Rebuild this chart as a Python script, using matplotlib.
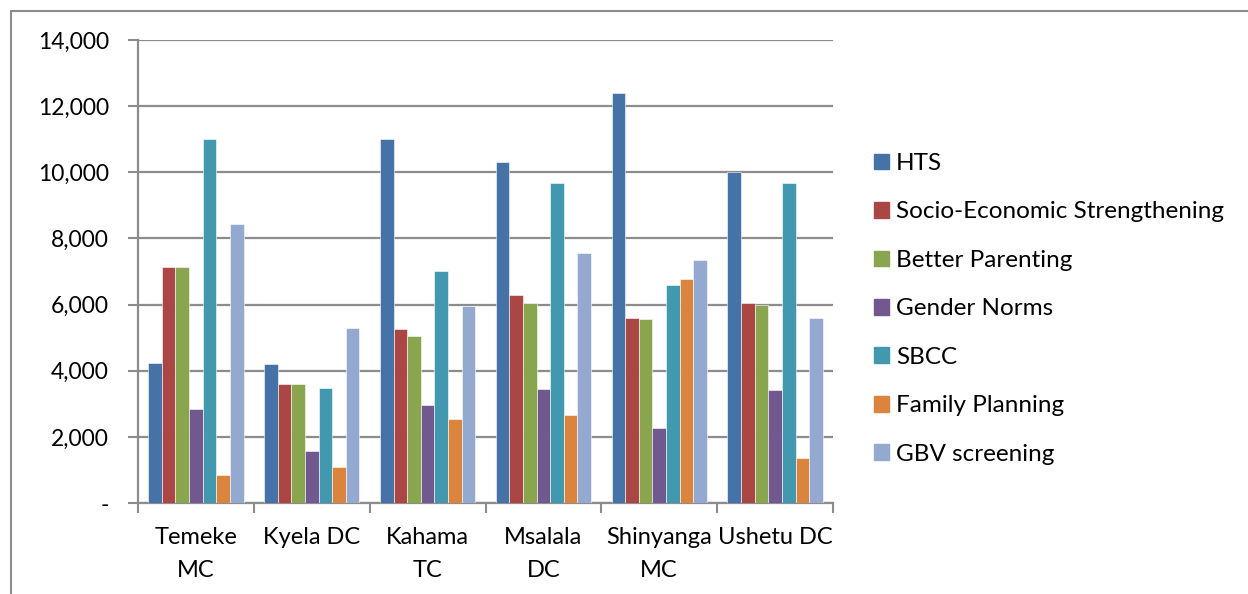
import matplotlib
matplotlib.use("Agg")
import matplotlib.pyplot as plt
import numpy as np
from matplotlib.lines import Line2D

districts = ["Temeke\nMC", "Kyela DC", "Kahama\nTC", "Msalala\nDC", "Shinyanga\nMC", "Ushetu DC"]
series_names = ["HTS", "Socio-Economic Strengthening", "Better Parenting",
                "Gender Norms", "SBCC", "Family Planning", "GBV screening"]
hts = [4220, 4190, 11000, 10300, 12400, 10000]
socio_economic = [7150, 3590, 5250, 6280, 5580, 6040]
better_parenting = [7150, 3590, 5060, 6050, 5560, 6000]
gender_norms = [2830, 1560, 2960, 3460, 2280, 3430]
sbcc = [11000, 3480, 7030, 9680, 6590, 9670]
family_planning = [860, 1100, 2530, 2650, 6770, 1360]
gbv_screening = [8440, 5290, 5970, 7560, 7350, 5600]
colors = ["#4572A7", "#AA4643", "#89A54E", "#71588F", "#4198AF", "#DB843D", "#93A9CF"]
y_ticks = [0, 2000, 4000, 6000, 8000, 10000, 12000, 14000]

values = [hts, socio_economic, better_parenting, gender_norms, sbcc, family_planning, gbv_screening]

plt.rcParams["font.family"] = ["Lato", "DejaVu Sans"]

W, H = 1248, 594
fig = plt.figure(figsize=(W / 100, H / 100), dpi=100)
ax = fig.add_axes([138 / W, 1 - 503 / H, (833 - 138) / W, (503 - 40) / H])

bar_w = 1.0 / 8.5
x = np.arange(len(districts))
grid_c = "#8C8C8C"

for i, (name, vals, c) in enumerate(zip(series_names, values, colors)):
    offs = 0.75 * bar_w + i * bar_w + bar_w / 2
    ax.bar(x + offs, vals, width=bar_w, color=c, edgecolor="white",
           linewidth=0.4, label=name, zorder=3)

ax.set_xlim(0, len(districts))
ax.set_ylim(0, 14000)
ax.set_yticks(y_ticks)
ax.set_yticklabels(["-" if v == 0 else f"{v:,}" for v in y_ticks])
ax.yaxis.grid(True, color=grid_c, linewidth=1.6, zorder=0)
ax.set_axisbelow(True)

ax.set_xticks(np.arange(len(districts) + 1))
ax.set_xticklabels([])
ax.set_xticks(x + 0.5, minor=True)
ax.set_xticklabels(districts, minor=True, fontsize=17, linespacing=1.72)
ax.tick_params(axis="x", which="minor", length=0, pad=17)
ax.tick_params(axis="x", which="major", length=7, width=1.5, color=grid_c)
ax.tick_params(axis="y", length=7, width=1.5, color=grid_c, labelsize=16.5, pad=14)

for side in ["top", "right"]:
    ax.spines[side].set_visible(False)
for side in ["left", "bottom"]:
    ax.spines[side].set_color(grid_c)
    ax.spines[side].set_linewidth(1.6)

handles = [plt.Rectangle((0, 0), 1, 1, color=c) for c in colors]
fig.legend(handles, series_names, loc="upper left",
           bbox_to_anchor=(874 / W, 1 - 153 / H), frameon=False,
           fontsize=17.5, handlelength=0.62, handleheight=0.62,
           handletextpad=0.29, labelspacing=1.13, borderaxespad=0,
           borderpad=0)

# outer chart-area border
fig.add_artist(Line2D([11 / W, 11 / W], [0, 1 - 11 / H], color="#8C8C8C", lw=1.5))
fig.add_artist(Line2D([11 / W, 1], [1 - 11 / H, 1 - 11 / H], color="#8C8C8C", lw=1.5))

fig.savefig("out.png", dpi=100, facecolor="white")
